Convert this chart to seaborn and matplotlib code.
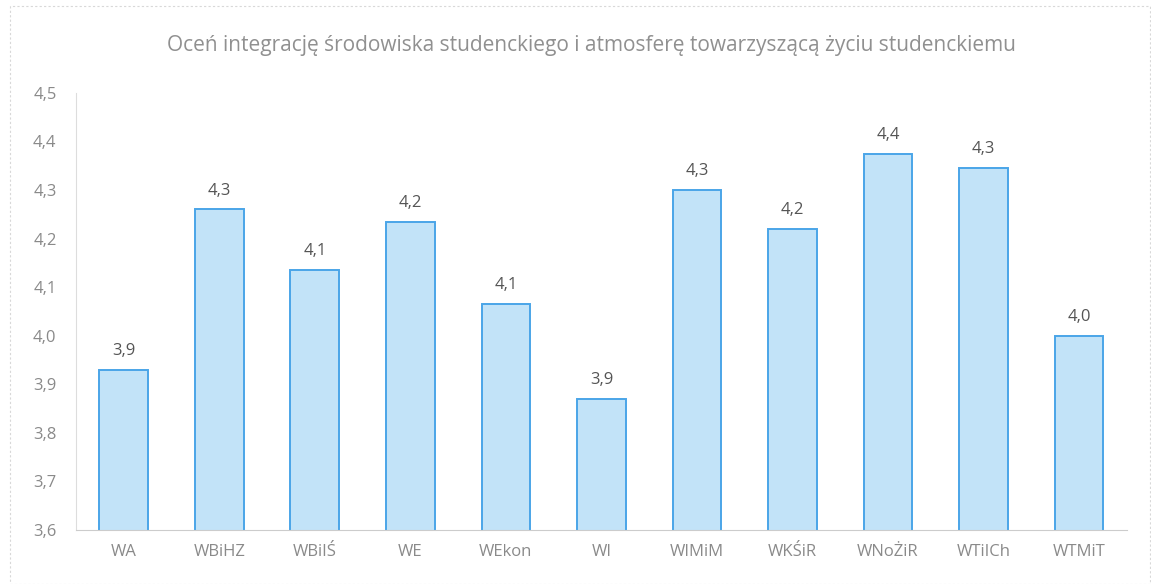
import matplotlib.pyplot as plt
import seaborn as sns
import pandas as pd
import numpy as np

# Faculties and mean ratings
faculties = ["WA", "WBiHZ", "WBiIŚ", "WE", "WEkon", "WI", "WIMiM",
             "WKŚiR", "WNoŻiR", "WTiICh", "WTMiT"]
scores = [3.93, 4.26, 4.135, 4.235, 4.065, 3.87, 4.30, 4.22, 4.375, 4.345, 4.0]

y_ticks = [3.6, 3.7, 3.8, 3.9, 4.0, 4.1, 4.2, 4.3, 4.4, 4.5]

df = pd.DataFrame({"Wydział": faculties, "Ocena": scores})

sns.set_style("white")
plt.rcParams['font.family'] = ['Open Sans', 'DejaVu Sans']

fig = plt.figure(figsize=(11.51, 5.84), dpi=100)
ax = fig.add_axes([0.066, 0.0925, 0.913, 0.7485])

sns.barplot(data=df, x="Wydział", y="Ocena", color="#c2e3f8", saturation=1,
            edgecolor="#4aa5e8", linewidth=1.4, width=0.51, ax=ax)

ax.set_ylim(3.6, 4.5)
ax.set_yticks(y_ticks)
ax.set_yticklabels([f"{t:.1f}".replace(".", ",") for t in y_ticks])
ax.set_xlabel("")
ax.set_ylabel("")

# value labels above bars
for i, v in enumerate(scores):
    ax.text(i, v + 0.022, f"{v:.1f}".replace(".", ","), ha="center", va="bottom",
            fontsize=12, color="#555555")

ax.tick_params(axis="both", colors="#8a8a8a", labelsize=12, length=0)
ax.tick_params(axis="x", pad=10)
ax.tick_params(axis="y", pad=14)

# small category separator ticks on the x axis
ax.set_xticks(np.arange(-0.5, len(faculties), 1), minor=True)
ax.tick_params(axis="x", which="minor", length=4, color="#cccccc")

for side in ["top", "right"]:
    ax.spines[side].set_visible(False)
ax.spines["left"].set_color("#dddddd")
ax.spines["bottom"].set_color("#cccccc")

fig.text(0.514, 0.922, "Oceń integrację środowiska studenckiego i atmosferę towarzyszącą życiu studenckiemu",
         ha="center", va="center", fontsize=15, color="#909090")

# faint frame of the scanned chart
frame = plt.Rectangle((0.009, 0.0), 0.99, 0.99, transform=fig.transFigure,
                      fill=False, ec="#d8d8d8", lw=0.8, ls=(0, (2, 2)))
fig.add_artist(frame)

plt.savefig("out.png", dpi=100)
plt.close()
